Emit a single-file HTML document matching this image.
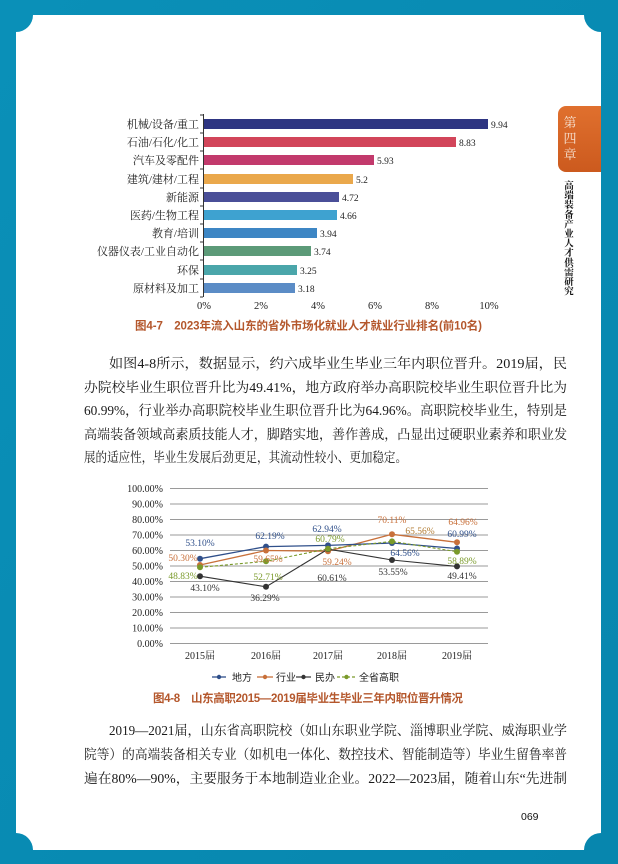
<!DOCTYPE html>
<html><head><meta charset="utf-8">
<style>
html,body{margin:0;padding:0;background:#0a8bb3;}
svg{display:block;}
text{font-family:"Liberation Serif","Noto Serif CJK SC","Noto Sans CJK SC",serif;}
.s{font-family:"Liberation Sans","Noto Sans CJK SC",sans-serif;}
</style></head><body>
<svg width="618" height="864" viewBox="0 0 618 864" xmlns="http://www.w3.org/2000/svg">
<defs>
<linearGradient id="fr" x1="0" y1="0" x2="1" y2="1"><stop offset="0" stop-color="#0a90b8"/><stop offset="1" stop-color="#0786ae"/></linearGradient>
<linearGradient id="tab" x1="0" y1="0" x2="0" y2="1"><stop offset="0" stop-color="#e0702e"/><stop offset="1" stop-color="#cc5a1e"/></linearGradient>
</defs>
<rect width="618" height="864" fill="url(#fr)"/>
<path d="M33 15 H584 A17 17 0 0 0 601 32 V833 A17 17 0 0 0 584 850 H33 A17 17 0 0 0 16 833 V32 A17 17 0 0 0 33 15 Z" fill="#fff"/>

<!-- chapter tab -->
<path d="M566 106 H601 V172 H566 A8 8 0 0 1 558 164 V114 A8 8 0 0 1 566 106 Z" fill="url(#tab)"/>
<g class="s" fill="#f6e2d2" font-size="13" text-anchor="middle">
<text x="570" y="127">第</text><text x="570" y="143">四</text><text x="570" y="159">章</text>
</g>
<g class="s" fill="#111" font-size="9.5" font-weight="bold" text-anchor="middle">
<text x="569" y="189">高</text><text x="569" y="198.6">端</text><text x="569" y="208.2">装</text><text x="569" y="217.8">备</text><text x="569" y="227.4">产</text><text x="569" y="237">业</text><text x="569" y="246.6">人</text><text x="569" y="256.2">才</text><text x="569" y="265.8">供</text><text x="569" y="275.4">需</text><text x="569" y="285">研</text><text x="569" y="294.6">究</text>
</g>

<!-- bar chart -->
<g>
<line x1="203.5" y1="114" x2="203.5" y2="297" stroke="#333" stroke-width="1"/>
<g stroke="#333" stroke-width="1">
<line x1="200" y1="115" x2="203" y2="115"/><line x1="200" y1="133" x2="203" y2="133"/><line x1="200" y1="151" x2="203" y2="151"/><line x1="200" y1="169" x2="203" y2="169"/><line x1="200" y1="188" x2="203" y2="188"/><line x1="200" y1="206" x2="203" y2="206"/><line x1="200" y1="224" x2="203" y2="224"/><line x1="200" y1="242" x2="203" y2="242"/><line x1="200" y1="260" x2="203" y2="260"/><line x1="200" y1="279" x2="203" y2="279"/><line x1="200" y1="297" x2="203" y2="297"/>
</g>
<rect x="204" y="119" width="284" height="10" fill="#2e3582"/>
<rect x="204" y="137" width="252" height="10" fill="#d2455a"/>
<rect x="204" y="155" width="170" height="10" fill="#c23a6c"/>
<rect x="204" y="174" width="149" height="10" fill="#eaa84c"/>
<rect x="204" y="192" width="135" height="10" fill="#4a4f98"/>
<rect x="204" y="210" width="133" height="10" fill="#3ea2d0"/>
<rect x="204" y="228" width="113" height="10" fill="#3d86c4"/>
<rect x="204" y="246" width="107" height="10" fill="#5c9a78"/>
<rect x="204" y="265" width="93" height="10" fill="#4aa6aa"/>
<rect x="204" y="283" width="91" height="10" fill="#5b8cc6"/>
<g font-size="11" fill="#222" text-anchor="end">
<text x="199" y="128">机械/设备/重工</text>
<text x="199" y="146">石油/石化/化工</text>
<text x="199" y="164">汽车及零配件</text>
<text x="199" y="183">建筑/建材/工程</text>
<text x="199" y="201">新能源</text>
<text x="199" y="219">医药/生物工程</text>
<text x="199" y="237">教育/培训</text>
<text x="199" y="255">仪器仪表/工业自动化</text>
<text x="199" y="274">环保</text>
<text x="199" y="292">原材料及加工</text>
</g>
<g font-size="9.5" fill="#222">
<text x="491" y="128">9.94</text><text x="459" y="146">8.83</text><text x="377" y="164">5.93</text><text x="356" y="183">5.2</text><text x="342" y="201">4.72</text><text x="340" y="219">4.66</text><text x="320" y="237">3.94</text><text x="314" y="255">3.74</text><text x="300" y="274">3.25</text><text x="298" y="292">3.18</text>
</g>
<g font-size="10.5" fill="#222" text-anchor="middle">
<text x="204" y="309">0%</text><text x="261" y="309">2%</text><text x="318" y="309">4%</text><text x="375" y="309">6%</text><text x="432" y="309">8%</text><text x="489" y="309">10%</text>
</g>
<text class="s" x="135" y="329.5" font-size="11.5" fill="#b4572c" font-weight="bold" textLength="347">图4-7　2023年流入山东的省外市场化就业人才就业行业排名(前10名)</text>
</g>

<!-- paragraph 1 -->
<g font-size="13.5" fill="#1a1a1a">
<text x="109" y="368" textLength="458" lengthAdjust="spacingAndGlyphs">如图4-8所示，数据显示，约六成毕业生毕业三年内职位晋升。2019届，民</text>
<text x="84" y="392" textLength="483" lengthAdjust="spacingAndGlyphs">办院校毕业生职位晋升比为49.41%，地方政府举办高职院校毕业生职位晋升比为</text>
<text x="84" y="415" textLength="483" lengthAdjust="spacingAndGlyphs">60.99%，行业举办高职院校毕业生职位晋升比为64.96%。高职院校毕业生，特别是</text>
<text x="84" y="439" textLength="483" lengthAdjust="spacingAndGlyphs">高端装备领域高素质技能人才，脚踏实地，善作善成，凸显出过硬职业素养和职业发</text>
<text x="84" y="462" textLength="323" lengthAdjust="spacingAndGlyphs">展的适应性，毕业生发展后劲更足，其流动性较小、更加稳定。</text>
</g>

<!-- line chart -->
<g>
<g stroke="#9a9a9a" stroke-width="1">
<line x1="170" y1="488.5" x2="488" y2="488.5"/><line x1="170" y1="504" x2="488" y2="504"/><line x1="170" y1="519.5" x2="488" y2="519.5"/><line x1="170" y1="535" x2="488" y2="535"/><line x1="170" y1="550.5" x2="488" y2="550.5"/><line x1="170" y1="566" x2="488" y2="566"/><line x1="170" y1="581.5" x2="488" y2="581.5"/><line x1="170" y1="597" x2="488" y2="597"/><line x1="170" y1="612.5" x2="488" y2="612.5"/><line x1="170" y1="628" x2="488" y2="628"/><line x1="170" y1="643.5" x2="488" y2="643.5"/>
</g>
<g font-size="10" fill="#222" text-anchor="end">
<text x="163" y="492">100.00%</text><text x="163" y="507.5">90.00%</text><text x="163" y="523">80.00%</text><text x="163" y="538.5">70.00%</text><text x="163" y="554">60.00%</text><text x="163" y="569.5">50.00%</text><text x="163" y="585">40.00%</text><text x="163" y="600.5">30.00%</text><text x="163" y="616">20.00%</text><text x="163" y="631.5">10.00%</text><text x="163" y="647">0.00%</text>
</g>
<g font-size="10" fill="#222" text-anchor="middle">
<text x="200" y="659">2015届</text><text x="266" y="659">2016届</text><text x="328" y="659">2017届</text><text x="392" y="659">2018届</text><text x="457" y="659">2019届</text>
</g>
<!-- series -->
<polyline points="200,565 266,550.5 328,551.2 392,534.3 457,542.3" fill="none" stroke="#c8703a" stroke-width="1.3"/>
<polyline points="200,558.7 266,546.6 328,545.4 392,543 457,548.5" fill="none" stroke="#2f4f8a" stroke-width="1.3"/>
<polyline points="200,576.2 266,586.8 328,549.1 392,560 457,566.4" fill="none" stroke="#333" stroke-width="1.1"/>
<polyline points="200,567.3 266,561.3 328,548.8 392,541.4 457,551.7" fill="none" stroke="#7a9a2a" stroke-width="1.1" stroke-dasharray="3,2"/>
<g fill="#2f4f8a"><circle cx="200" cy="558.7" r="3"/><circle cx="266" cy="546.6" r="3"/><circle cx="328" cy="545.4" r="3"/><circle cx="392" cy="543" r="3"/><circle cx="457" cy="548.5" r="3"/></g>
<g fill="#c8703a"><circle cx="200" cy="565" r="3"/><circle cx="266" cy="550.5" r="3"/><circle cx="328" cy="551.2" r="3"/><circle cx="392" cy="534.3" r="3"/><circle cx="457" cy="542.3" r="3"/></g>
<g fill="#333"><circle cx="200" cy="576.2" r="3"/><circle cx="266" cy="586.8" r="3"/><circle cx="328" cy="549.1" r="3"/><circle cx="392" cy="560" r="3"/><circle cx="457" cy="566.4" r="3"/></g>
<g fill="#7a9a2a"><circle cx="200" cy="567.3" r="3"/><circle cx="266" cy="561.3" r="3"/><circle cx="328" cy="548.8" r="3"/><circle cx="392" cy="541.4" r="3"/><circle cx="457" cy="551.7" r="3"/></g>
<g font-size="9.5" text-anchor="middle">
<text x="200" y="546" fill="#2f4f8a">53.10%</text>
<text x="183" y="561" fill="#c8703a">50.30%</text>
<text x="183" y="579" fill="#7a9a2a">48.83%</text>
<text x="205" y="591" fill="#333">43.10%</text>
<text x="270" y="539" fill="#2f4f8a">62.19%</text>
<text x="268" y="562" fill="#c8703a">59.65%</text>
<text x="268" y="580" fill="#7a9a2a">52.71%</text>
<text x="265" y="601" fill="#333">36.29%</text>
<text x="327" y="532" fill="#2f4f8a">62.94%</text>
<text x="330" y="542" fill="#7a9a2a">60.79%</text>
<text x="337" y="565" fill="#c8703a">59.24%</text>
<text x="332" y="581" fill="#333">60.61%</text>
<text x="392" y="523" fill="#c8703a">70.11%</text>
<text x="420" y="534" fill="#b07a30">65.56%</text>
<text x="405" y="556" fill="#2f4f8a">64.56%</text>
<text x="393" y="575" fill="#333">53.55%</text>
<text x="463" y="525" fill="#c8703a">64.96%</text>
<text x="462" y="537" fill="#2f4f8a">60.99%</text>
<text x="462" y="564" fill="#7a9a2a">58.89%</text>
<text x="462" y="579" fill="#333">49.41%</text>
</g>
<!-- legend -->
<g>
<line x1="212" y1="677" x2="226" y2="677" stroke="#2f4f8a" stroke-width="1.3"/><circle cx="219" cy="677" r="2.2" fill="#2f4f8a"/>
<text class="s" x="232" y="681" font-size="10" fill="#222">地方</text>
<line x1="257" y1="677" x2="273" y2="677" stroke="#c8703a" stroke-width="1.3"/><circle cx="265" cy="677" r="2.2" fill="#c8703a"/>
<text class="s" x="276" y="681" font-size="10" fill="#222">行业</text>
<line x1="296" y1="677" x2="311" y2="677" stroke="#333" stroke-width="1.2"/><circle cx="303.5" cy="677" r="2.2" fill="#333"/>
<text class="s" x="315" y="681" font-size="10" fill="#222">民办</text>
<line x1="337" y1="677" x2="356" y2="677" stroke="#7a9a2a" stroke-width="1.2" stroke-dasharray="3,2"/><circle cx="346.5" cy="677" r="2.2" fill="#7a9a2a"/>
<text class="s" x="359" y="681" font-size="10" fill="#222">全省高职</text>
</g>
<text class="s" x="153" y="702" font-size="11.5" fill="#b4572c" font-weight="bold" textLength="310">图4-8　山东高职2015—2019届毕业生毕业三年内职位晋升情况</text>
</g>

<!-- paragraph 2 -->
<g font-size="13.5" fill="#1a1a1a">
<text x="109" y="735" textLength="458" lengthAdjust="spacingAndGlyphs">2019—2021届，山东省高职院校（如山东职业学院、淄博职业学院、威海职业学</text>
<text x="84" y="759" textLength="483" lengthAdjust="spacingAndGlyphs">院等）的高端装备相关专业（如机电一体化、数控技术、智能制造等）毕业生留鲁率普</text>
<text x="84" y="783" textLength="483" lengthAdjust="spacingAndGlyphs">遍在80%—90%，主要服务于本地制造业企业。2022—2023届，随着山东“先进制</text>
</g>

<text class="s" x="521" y="820" font-size="10.5" fill="#111">069</text>
</svg>
</body></html>
